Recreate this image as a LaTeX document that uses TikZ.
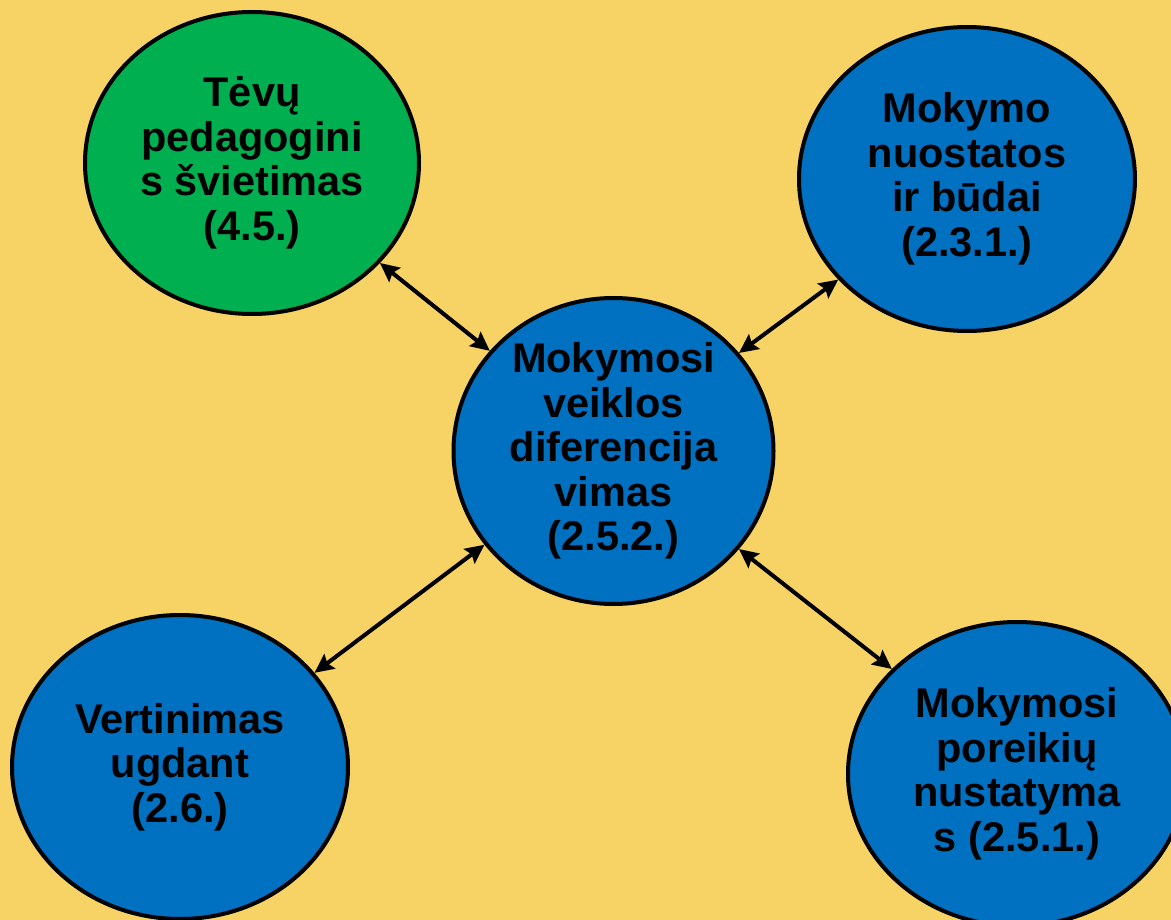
\documentclass[tikz,border=0pt]{standalone}
\usepackage{fontspec}
\setmainfont{Liberation Sans}
\usetikzlibrary{shapes.geometric,arrows.meta}
\definecolor{bgyellow}{HTML}{F7D264}
\definecolor{nodeblue}{HTML}{0070C0}
\definecolor{nodegreen}{HTML}{00B050}
\tikzset{
  bubble/.style={ellipse, draw=black, line width=4pt, inner sep=0pt},
  bubbletext/.style={align=center, font=\fontsize{41.5}{44.5}\selectfont\bfseries, inner sep=0pt},
  conn/.style={line width=4pt, {Stealth[length=19pt,width=18pt,inset=3pt]}-{Stealth[length=19pt,width=18pt,inset=3pt]}}
}
\begin{document}
\begin{tikzpicture}[x=1pt,y=-1pt]
\fill[bgyellow] (0,0) rectangle (1171,920);
\useasboundingbox (0,0) rectangle (1171,920);

\node[bubble, fill=nodegreen, minimum width=334pt, minimum height=302pt] (g) at (252,163) {};
\node[bubble, fill=nodeblue, minimum width=336pt, minimum height=304pt] (tr) at (967,179) {};
\node[bubble, fill=nodeblue, minimum width=320pt, minimum height=306pt] (c) at (613.5,451) {};
\node[bubble, fill=nodeblue, minimum width=336pt, minimum height=304pt] (bl) at (180,767) {};
\node[bubble, fill=nodeblue, minimum width=338pt, minimum height=304pt] (br) at (1017,774) {};

\node[bubbletext] (gt) at (g) {Tėvų\\pedagogini\\s švietimas\\(4.5.)};
\node[bubbletext] (trt) at (tr) {Mokymo\\nuostatos\\ir būdai\\(2.3.1.)};
\node[bubbletext] (ct) at (c) {Mokymosi\\veiklos\\diferencija\\vimas\\(2.5.2.)};
\node[bubbletext] (blt) at (bl) {Vertinimas\\ugdant\\(2.6.)};
\node[bubbletext] (brt) at (br) {Mokymosi\\poreikių\\nustatyma\\s (2.5.1.)};

\draw[conn] (g.-38) -- (c.141);
\draw[conn] (c.38) -- (tr.218);
\draw[conn] (c.-38.5) -- (br.140);
\draw[conn] (c.216.5) -- (bl.35.5);
\end{tikzpicture}
\end{document}
